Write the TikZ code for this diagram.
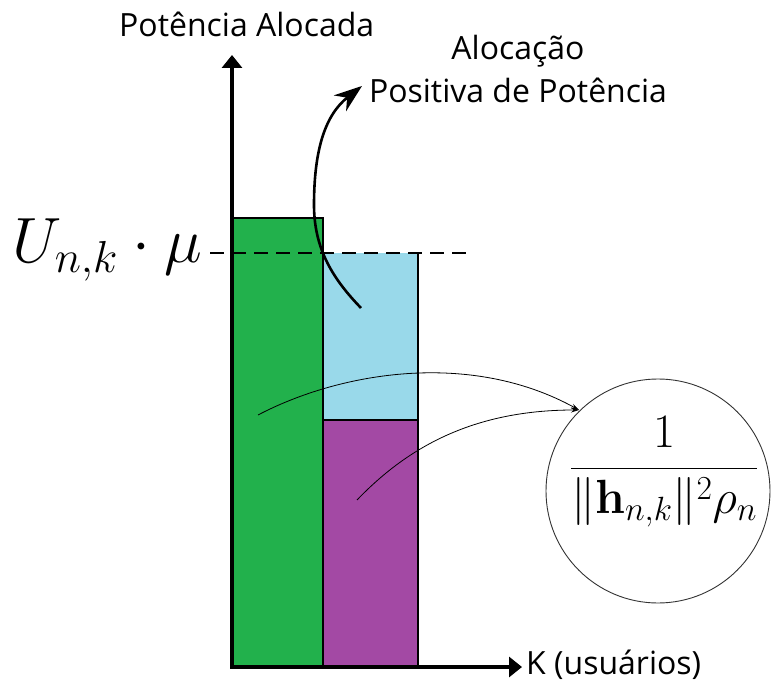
\documentclass[tikz,border=0pt]{standalone}
\usepackage{fix-cm}
\usepackage{amsmath}
\usepackage[no-math]{fontspec}
\newfontfamily\labelfont{Open Sans}
\usetikzlibrary{arrows.meta}
\definecolor{barGreen}{HTML}{22B14C}
\definecolor{barBlue}{HTML}{99D9EA}
\definecolor{barPurple}{HTML}{A349A4}
\definecolor{edgeRed}{HTML}{3A0A0A}
\tikzset{
  axis/.style={line width=4pt, -{Triangle[length=13pt,width=20pt]}},
  bar/.style={line width=1.6pt, draw=black},
  guide/.style={line width=2pt, dash pattern=on 14pt off 8pt},
  bigarrow/.style={line width=2.6pt, -{Stealth[length=28pt,width=20pt]}},
  thinarrow/.style={line width=0.8pt, -{Stealth[length=8pt,width=5pt]}},
  txt/.style={font=\labelfont\fontsize{32}{38}\selectfont, inner sep=0pt},
}
\begin{document}
\begin{tikzpicture}[x=1pt,y=-1pt]
\useasboundingbox (0,0) rectangle (771,684);
% bars
\fill[barGreen] (232,218) rectangle (323,667);
\fill[barBlue] (323,253) rectangle (418,420);
\fill[barPurple] (323,420) rectangle (418,667);
\draw[bar] (232,218) -- (323,218) -- (323,667);
\draw[bar] (418,253) -- (418,667);
\draw[bar] (323,420) -- (418,420);
\draw[line width=1.6pt, edgeRed] (233,218) -- (233,667);
% axes
\coordinate (O) at (232,667);
\coordinate (Ytop) at (232,55);
\coordinate (Xend) at (522,667);
\draw[axis] (O) -- (Ytop);
\draw[axis] ([xshift=-2pt]O) -- (Xend);
% dashed level
\coordinate (dashL) at (210,253);
\coordinate (dashR) at (470,253);
\draw[guide] (dashL) -- (dashR);
% labels
\node[txt, anchor=base west] (ylab) at (119,37) {Potência Alocada};
\node[txt, anchor=base west] (xlab) at (526,674) {K (usuários)};
\node[txt, anchor=base] (alloc1) at (518,60) {Alocação};
\node[txt, anchor=base] (alloc2) at (518,103) {Positiva de Potência};
\node[inner sep=0pt, anchor=base west] (level) at (12,263) {\fontsize{64}{70}\selectfont$U_{n,k}\cdot\mu$};
% circle with fraction
\node[circle, draw=black!80, line width=0.9pt, minimum size=224pt, inner sep=0pt] (circ) at (658,491) {};
\node[inner sep=0pt] (frac) at (664,472) {\fontsize{48}{56}\selectfont$\dfrac{1}{\|\mathbf{h}_{n,k}\|^2\rho_n}$};
% curved arrow
\coordinate (caStart) at (361,308);
\coordinate (caEnd) at (362,86);
\draw[bigarrow] (caStart) .. controls (334,280) and (314,250) .. (314,205) .. controls (314,150) and (325,115) .. (caEnd);
% thin arrows
\coordinate (gStart) at (258,415);
\coordinate (pStart) at (357,500);
\coordinate (cTip) at (579,410);
\draw[thinarrow] (gStart) .. controls (340,372) and (470,350) .. (cTip);
\draw[thinarrow] (pStart) .. controls (405,450) and (470,410) .. (cTip);
\end{tikzpicture}
\end{document}
